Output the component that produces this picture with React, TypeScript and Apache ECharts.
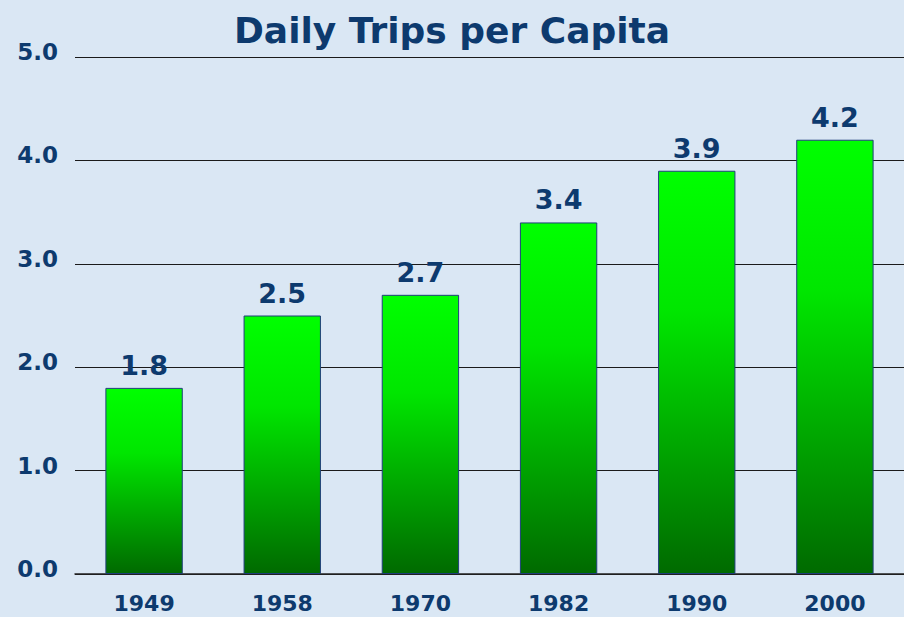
import React, { useEffect, useRef } from "react";
import * as echarts from "echarts";

const categories = ["1949", "1958", "1970", "1982", "1990", "2000"];
const tripsPerCapita = [1.8, 2.5, 2.7, 3.4, 3.9, 4.2];
const yTicks = [0, 1, 2, 3, 4, 5];

const NAVY = "#0d3a6e";
const FONT = "'DejaVu Sans', sans-serif";

export default function App() {
  const ref = useRef<HTMLDivElement>(null);
  useEffect(() => {
    if (!ref.current) return;
    const chart = echarts.init(ref.current, undefined, { renderer: "svg" });
    chart.setOption({
      animation: false,
      backgroundColor: "#dae7f4",
      title: {
        text: "Daily Trips per Capita",
        left: "center",
        top: 7,
        textStyle: { color: NAVY, fontFamily: FONT, fontWeight: "bold", fontSize: 36 },
      },
      grid: { left: 75, right: -4, top: 57, bottom: 43, containLabel: false },
      xAxis: {
        type: "category",
        data: categories,
        axisLine: { show: true, lineStyle: { color: "#222", width: 1.5 } },
        axisTick: { show: false },
        axisLabel: {
          color: NAVY,
          fontFamily: FONT,
          fontWeight: "bold",
          fontSize: 22,
          margin: 18,
        },
      },
      yAxis: {
        type: "value",
        min: yTicks[0],
        max: yTicks[yTicks.length - 1],
        interval: 1,
        axisLine: { show: false },
        axisTick: { show: false },
        splitLine: { show: true, lineStyle: { color: "#1a1a1a", width: 1.2 } },
        axisLabel: {
          color: NAVY,
          fontFamily: FONT,
          fontWeight: "bold",
          fontSize: 23,
          margin: 17,
          verticalAlign: "bottom",
          lineHeight: 10,
          formatter: (v: number) => v.toFixed(1),
        },
      },
      series: [
        {
          type: "bar",
          data: tripsPerCapita,
          barWidth: "56%",
          z: 3,
          itemStyle: {
            color: new echarts.graphic.LinearGradient(0, 0, 0, 1, [
              { offset: 0, color: "#00ff00" },
              { offset: 0.35, color: "#00e600" },
              { offset: 1, color: "#006a00" },
            ]),
            borderColor: "#1f3f7a",
            borderWidth: 1,
          },
          label: {
            show: true,
            position: "top",
            distance: 9,
            color: NAVY,
            fontFamily: FONT,
            fontWeight: "bold",
            fontSize: 27,
            formatter: (p: any) => Number(p.value).toFixed(1),
          },
        },
      ],
    });
    return () => chart.dispose();
  }, []);
  return (
    <div
      ref={ref}
      style={{ position: "absolute", left: 0, top: 0, width: 904, height: 617 }}
    />
  );
}
